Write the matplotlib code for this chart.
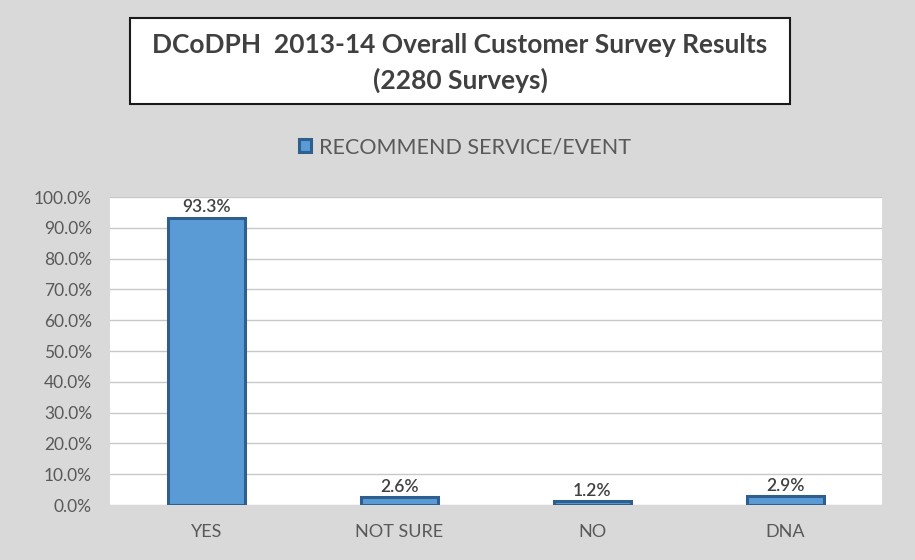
import numpy as np
import matplotlib
matplotlib.use('Agg')
import matplotlib.pyplot as plt
from matplotlib.patches import Rectangle
from matplotlib.ticker import FuncFormatter

categories = ['YES', 'NOT SURE', 'NO', 'DNA']
values = [0.933, 0.026, 0.012, 0.029]
series_name = 'RECOMMEND SERVICE/EVENT'
title_lines = ['DCoDPH  2013-14 Overall Customer Survey Results', '(2280 Surveys)']

plt.rcParams['font.family'] = ['Lato', 'DejaVu Sans']

bg = '#d9d9d9'
fig = plt.figure(figsize=(9.15, 5.6), dpi=100, facecolor=bg)
ax = fig.add_axes([110 / 915, 55 / 560, 772 / 915, 308 / 560])
ax.set_facecolor('white')

x = np.arange(len(categories))
bars = ax.bar(x, values, width=0.4, color='#5b9bd5', edgecolor='#2f5f8f',
              linewidth=2.2, label=series_name, zorder=3)

for xi, v in zip(x, values):
    ax.text(xi, v + 0.008, f'{v * 100:.1f}%', ha='center', va='bottom',
            fontsize=12.5, color='#404040', fontweight='semibold', zorder=4)

ax.set_xlim(-0.5, len(categories) - 0.5)
ax.set_ylim(0, 1.0)
ax.set_yticks(np.arange(0, 1.01, 0.1))
ax.yaxis.set_major_formatter(FuncFormatter(lambda v, p: f'{v * 100:.1f}%'))
ax.set_xticks(x)
ax.set_xticklabels(categories)
ax.grid(axis='y', color='#c8c8c8', linewidth=1, zorder=0)
for s in ax.spines.values():
    s.set_visible(False)
ax.tick_params(axis='both', length=0, colors='#595959')
ax.tick_params(axis='y', pad=13, labelsize=12.5)
ax.tick_params(axis='x', pad=14, labelsize=13)

# title box
fig.patches.append(Rectangle((130 / 915, 1 - 104 / 560), 660 / 915, 86 / 560,
                             transform=fig.transFigure, facecolor='white',
                             edgecolor='#1a1a1a', linewidth=1.5))
fig.text(460 / 915, 1 - 45 / 560, title_lines[0], ha='center', va='center',
         fontsize=19, fontweight='bold', color='#404040')
fig.text(460 / 915, 1 - 80 / 560, title_lines[1], ha='center', va='center',
         fontsize=19, fontweight='bold', color='#404040')

leg = fig.legend(handles=[bars], labels=[series_name], loc='center',
                 bbox_to_anchor=(465 / 915, 1 - 147 / 560), frameon=False,
                 fontsize=15.5, labelcolor='#595959', handlelength=0.55,
                 handleheight=0.55, handletextpad=0.35)

fig.savefig('out.png', dpi=100, facecolor=bg)
